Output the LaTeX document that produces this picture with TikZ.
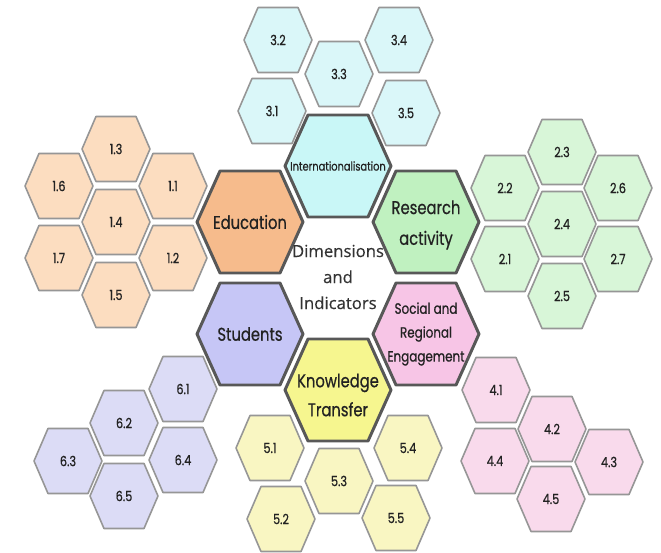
\documentclass[tikz,border=0pt]{standalone}
\usepackage{fontspec}
\usepackage{tikz}
\usetikzlibrary{positioning}
\newfontfamily\hexfont[FakeStretch=0.8, FakeBold=0.6]{Poppins}
\newfontfamily\centrefont[FakeBold=0.4]{Open Sans}

\definecolor{edu-dark}{HTML}{F6BB8C}
\definecolor{edu-light}{HTML}{FCDDC0}
\definecolor{intl-dark}{HTML}{C9F7F7}
\definecolor{intl-light}{HTML}{DAF7F9}
\definecolor{res-dark}{HTML}{C0F1C0}
\definecolor{res-light}{HTML}{D8F6D8}
\definecolor{stu-dark}{HTML}{C6C6F6}
\definecolor{stu-light}{HTML}{DCDCF6}
\definecolor{soc-dark}{HTML}{F7C5E6}
\definecolor{soc-light}{HTML}{F9DAEC}
\definecolor{kt-dark}{HTML}{F6F68F}
\definecolor{kt-light}{HTML}{F9F6C2}
\definecolor{hex-edge}{HTML}{969696}
\definecolor{dim-edge}{HTML}{585858}
\definecolor{hex-text}{HTML}{222222}
\definecolor{centre-text}{HTML}{333333}

% flat-topped hexagons, drawn round a centre, with a named label node
\newcommand{\bighex}[5][]{%
  \draw[big-hex, fill=#4] (#3) ++(-53,0) -- ++(23,-51) -- ++(60,0) -- ++(23,51) -- ++(-23,51) -- ++(-60,0) -- cycle;
  \node[big-label, #1] (#2) at (#3) {#5};}
\newcommand{\smallhex}[4]{%
  \draw[small-hex, fill=#3] (#2) ++(-34,0) -- ++(14,-32.5) -- ++(40,0) -- ++(14,32.5) -- ++(-14,32.5) -- ++(-40,0) -- cycle;
  \node[small-label] (#1) at (#2) {#4};}

\begin{document}
\begin{tikzpicture}[
    x=0.02cm, y=-0.02cm,
    big-hex/.style={draw=dim-edge, line width=1.7pt, line join=round},
    small-hex/.style={draw=hex-edge, line width=0.9pt, line join=round},
    big-label/.style={inner sep=0pt, align=center, text=hex-text, font=\hexfont\fontsize{10.5}{17.5}\selectfont},
    small-label/.style={inner sep=0pt, text=hex-text, font=\hexfont\fontsize{8}{9}\selectfont}
]
\useasboundingbox[fill=white] (0,0) rectangle (661,553);

% Dimensions
\bighex[font=\hexfont\fontsize{7}{8}\selectfont]{intl}{338,166}{intl-dark}{Internationalisation}
\bighex{edu}{250,222}{edu-dark}{Education}
\bighex[yshift=-0.06cm]{res}{426,222}{res-dark}{Research\\activity}
\bighex{stu}{250,334}{stu-dark}{Students}
\bighex[font=\hexfont\fontsize{8.5}{13.6}\selectfont]{soc}{426,334}{soc-dark}{Social and\\Regional\\Engagement}
\bighex[font=\hexfont\fontsize{10.5}{16.5}\selectfont, yshift=-0.1cm]{kt}{338,390}{kt-dark}{Knowledge\\Transfer}
\node[align=center, text=centre-text, font=\centrefont\fontsize{9.5}{14.8}\selectfont] (centre) at (338,277) {Dimensions\\and\\Indicators};

% Education indicators
\smallhex{i-1-3}{116,149}{edu-light}{1.3}
\smallhex{i-1-6}{59,186}{edu-light}{1.6}
\smallhex{i-1-1}{173,186}{edu-light}{1.1}
\smallhex{i-1-4}{116,222}{edu-light}{1.4}
\smallhex{i-1-7}{59,258}{edu-light}{1.7}
\smallhex{i-1-2}{173,258}{edu-light}{1.2}
\smallhex{i-1-5}{116,295}{edu-light}{1.5}

% Research indicators
\smallhex{i-2-3}{562,152}{res-light}{2.3}
\smallhex{i-2-2}{505,188}{res-light}{2.2}
\smallhex{i-2-6}{618,188}{res-light}{2.6}
\smallhex{i-2-4}{562,224}{res-light}{2.4}
\smallhex{i-2-1}{505,259}{res-light}{2.1}
\smallhex{i-2-7}{618,259}{res-light}{2.7}
\smallhex{i-2-5}{562,296}{res-light}{2.5}

% Internationalisation indicators
\smallhex{i-3-2}{278,40}{intl-light}{3.2}
\smallhex{i-3-4}{399,40}{intl-light}{3.4}
\smallhex{i-3-3}{339,74}{intl-light}{3.3}
\smallhex{i-3-1}{272,111}{intl-light}{3.1}
\smallhex{i-3-5}{406,113}{intl-light}{3.5}

% Social and regional indicators
\smallhex{i-4-1}{496,390}{soc-light}{4.1}
\smallhex{i-4-2}{552,429}{soc-light}{4.2}
\smallhex{i-4-4}{495,461}{soc-light}{4.4}
\smallhex{i-4-3}{609,462}{soc-light}{4.3}
\smallhex{i-4-5}{551,499}{soc-light}{4.5}

% Knowledge transfer indicators
\smallhex{i-5-1}{270,448}{kt-light}{5.1}
\smallhex{i-5-4}{408,448}{kt-light}{5.4}
\smallhex{i-5-3}{339,481}{kt-light}{5.3}
\smallhex{i-5-2}{281,519}{kt-light}{5.2}
\smallhex{i-5-5}{396,518}{kt-light}{5.5}

% Student indicators
\smallhex{i-6-1}{183,389}{stu-light}{6.1}
\smallhex{i-6-2}{124,423}{stu-light}{6.2}
\smallhex{i-6-3}{68,461}{stu-light}{6.3}
\smallhex{i-6-4}{183,460}{stu-light}{6.4}
\smallhex{i-6-5}{124,496}{stu-light}{6.5}

\end{tikzpicture}
\end{document}
